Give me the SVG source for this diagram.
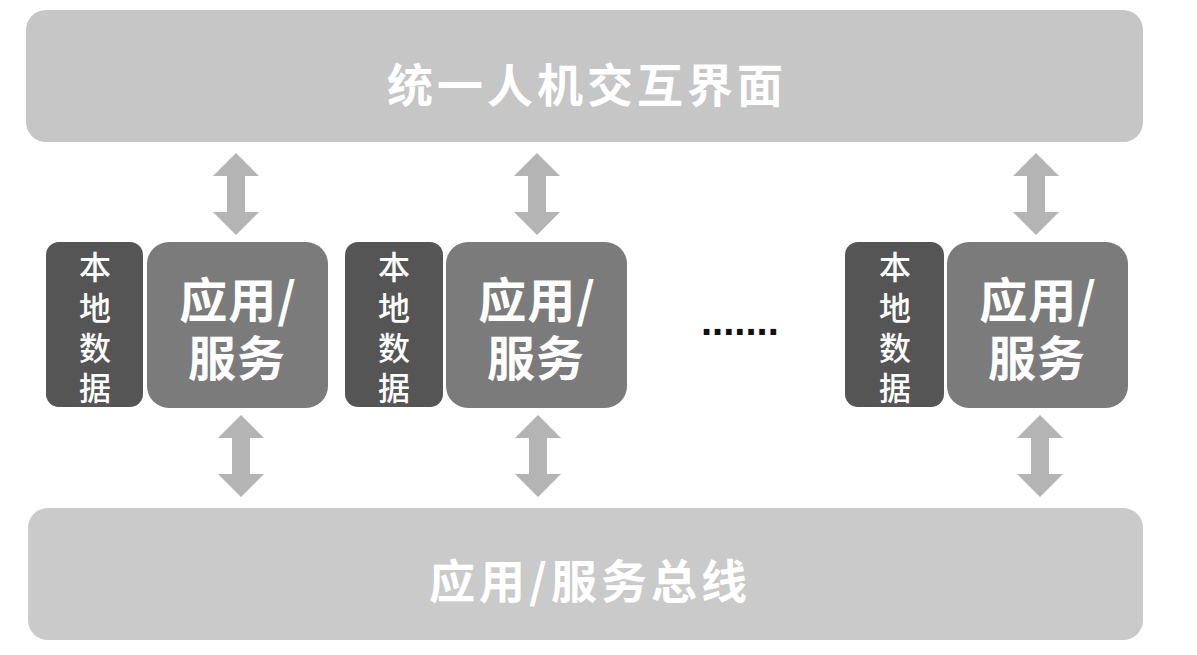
<svg xmlns="http://www.w3.org/2000/svg" width="1197" height="655" viewBox="0 0 1197 655">
<defs>
<style>
.bar{fill:#c6c6c6}
.loc{fill:#555555}
.app{fill:#7b7b7b}
.arr{fill:#b4b4b4}
.t{fill:#ffffff;font-family:"Noto Sans CJK SC","Noto Sans",sans-serif;text-anchor:middle;dominant-baseline:central}
.big{font-size:46px;font-weight:bold;letter-spacing:4px}
.app-t{font-size:48px;font-weight:bold;letter-spacing:1px}
.loc-t{font-size:32px;font-weight:500}
.dots{fill:#111111;font-family:"Liberation Sans",sans-serif;font-size:40px;font-weight:bold}
</style>
</defs>
<rect width="1197" height="655" fill="#ffffff"/>
<g id="top-bar">
<rect class="bar" x="26" y="10" width="1117" height="132" rx="20"/>
<text class="t big" x="587" y="82">统一人机交互界面</text>
</g>
<g id="bottom-bar">
<rect class="bar" x="28" y="508" width="1115" height="132" rx="20" style="fill:#cacaca"/>
<text class="t big" x="590" y="578">应用/服务总线</text>
</g>
<g id="node1">
<rect class="loc" x="46" y="242" width="97" height="165" rx="13"/>
<text class="t loc-t" x="95" y="265">本</text>
<text class="t loc-t" x="95" y="306">地</text>
<text class="t loc-t" x="95" y="346">数</text>
<text class="t loc-t" x="95" y="386">据</text>
<rect class="app" x="147" y="242" width="181" height="166" rx="22"/>
<text class="t app-t" x="238" y="297">应用/</text>
<text class="t app-t" x="237" y="355">服务</text>
</g>
<g id="node2">
<rect class="loc" x="345" y="242" width="98" height="165" rx="13"/>
<text class="t loc-t" x="394" y="265">本</text>
<text class="t loc-t" x="394" y="306">地</text>
<text class="t loc-t" x="394" y="346">数</text>
<text class="t loc-t" x="394" y="386">据</text>
<rect class="app" x="446" y="242" width="181" height="166" rx="22"/>
<text class="t app-t" x="537" y="297">应用/</text>
<text class="t app-t" x="536" y="355">服务</text>
</g>
<g id="ellipsis">
<text class="dots" x="701" y="335">.......</text>
</g>
<g id="node3">
<rect class="loc" x="845" y="242" width="99" height="165" rx="13"/>
<text class="t loc-t" x="895" y="265">本</text>
<text class="t loc-t" x="895" y="306">地</text>
<text class="t loc-t" x="895" y="346">数</text>
<text class="t loc-t" x="895" y="386">据</text>
<rect class="app" x="947" y="242" width="181" height="166" rx="22"/>
<text class="t app-t" x="1038" y="297">应用/</text>
<text class="t app-t" x="1037" y="355">服务</text>
</g>
<g id="connectors">
<polygon class="arr" points="236,153 259,176 245,176 245,212 259,212 236,235 213,212 227,212 227,176 213,176"/>
<polygon class="arr" points="537,153 560,176 546,176 546,212 560,212 537,235 514,212 528,212 528,176 514,176"/>
<polygon class="arr" points="1036,153 1059,176 1045,176 1045,212 1059,212 1036,235 1013,212 1027,212 1027,176 1013,176"/>
<polygon class="arr" points="241,415 264,438 250,438 250,474 264,474 241,497 218,474 232,474 232,438 218,438"/>
<polygon class="arr" points="538,415 561,438 547,438 547,474 561,474 538,497 515,474 529,474 529,438 515,438"/>
<polygon class="arr" points="1040,415 1063,438 1049,438 1049,474 1063,474 1040,497 1017,474 1031,474 1031,438 1017,438"/>
</g>
</svg>
